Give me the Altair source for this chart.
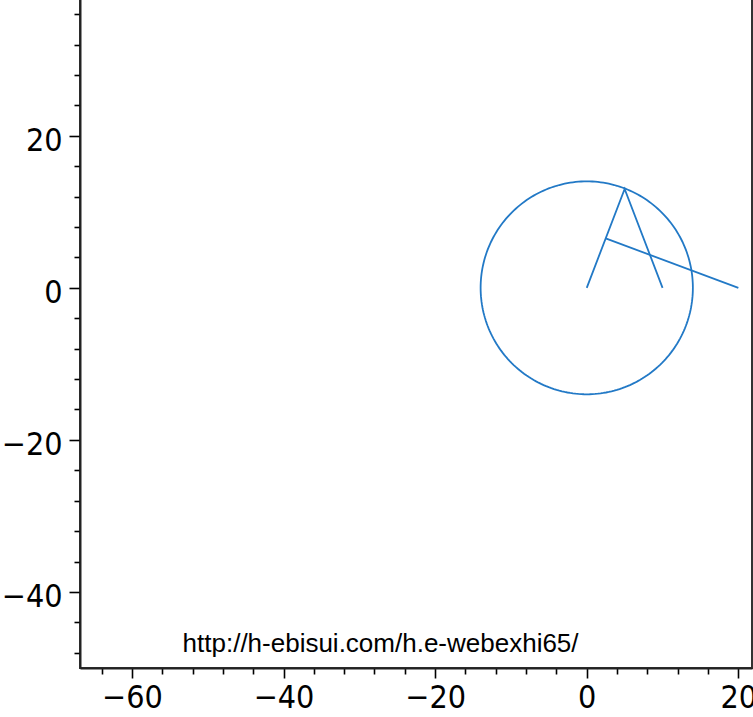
import altair as alt
import numpy as np
import pandas as pd

# ---- data ----
circle_cx = [0.0]
circle_cy = [0.0]
circle_r = [14.0]

legs_x = [0.0, 5.0, 10.0]
legs_y = [0.0, 13.0, 0.0]

bar_x = [2.5, 20.0]
bar_y = [6.5, 0.0]

note_text = ["http://h-ebisui.com/h.e-webexhi65/"]
note_x = [-27.2]
note_y = [-47.9]

x_ticks = list(range(-64, 21, 4))
y_ticks = list(range(-48, 41, 4))

XDOM = [-66.85, 21.8]
YDOM = [-50.0, 41.8]

# ---- tables ----
t = np.linspace(0, 2 * np.pi, 241)
circ = pd.DataFrame({
    "x": circle_cx[0] + circle_r[0] * np.cos(t),
    "y": circle_cy[0] + circle_r[0] * np.sin(t),
    "o": np.arange(len(t)),
    "g": "circle",
})
legs = pd.DataFrame({"x": legs_x, "y": legs_y, "o": range(len(legs_x)), "g": "legs"})
bar = pd.DataFrame({"x": bar_x, "y": bar_y, "o": range(len(bar_x)), "g": "bar"})
lines = pd.concat([circ, legs, bar], ignore_index=True)
note = pd.DataFrame({"x": note_x, "y": note_y, "t": note_text})

AXFONT = "Liberation Sans Narrow, DejaVu Sans Condensed, DejaVu Sans"
major = "datum.value % 20 === 0"

xaxis = alt.Axis(
    values=x_ticks, tickCount=200, format="d", title=None, grid=False,
    labelExpr=f"{major} ? datum.label : ''",
    labelOverlap=False, labelFont=AXFONT, labelFontSize=32, labelColor="black",
    labelPadding=4, labelFlush=False,
    tickSize={"condition": {"test": major, "value": 10}, "value": 6},
    tickColor="black", tickWidth=1.6,
    domainColor="#222222", domainWidth=2,
)
yaxis = alt.Axis(
    values=y_ticks, tickCount=200, format="d", title=None, grid=False,
    labelExpr=f"{major} ? datum.label : ''",
    labelOverlap=False, labelFont=AXFONT, labelFontSize=32, labelColor="black",
    labelPadding=7, labelFlush=False, labelBaseline="middle", labelOffset=5,
    tickSize={"condition": {"test": major, "value": 11}, "value": 6},
    tickColor="black", tickWidth=1.6,
    domainColor="#222222", domainWidth=2,
)

xs = alt.Scale(domain=XDOM, nice=False, zero=False)
ys = alt.Scale(domain=YDOM, nice=False, zero=False)

line_layer = alt.Chart(lines).mark_line(color="#2279c6", strokeWidth=1.8, clip=True).encode(
    x=alt.X("x:Q", scale=xs, axis=xaxis),
    y=alt.Y("y:Q", scale=ys, axis=yaxis),
    detail="g:N",
    order="o:Q",
)

text_layer = alt.Chart(note).mark_text(
    font="Liberation Sans, Arial, sans-serif", fontSize=26, color="black",
    align="center", baseline="alphabetic",
).encode(x=alt.X("x:Q", scale=xs), y=alt.Y("y:Q", scale=ys), text="t:N")

chart = alt.layer(line_layer, text_layer).properties(
    width=672, height=698,
    autosize=alt.AutoSizeParams(type="none"),
    padding={"left": 80, "top": -30, "right": 1, "bottom": 49},
    background="white",
).configure_view(stroke="#333333", strokeWidth=2)

chart.save("out.html", embed_options={"renderer": "svg", "actions": False})
